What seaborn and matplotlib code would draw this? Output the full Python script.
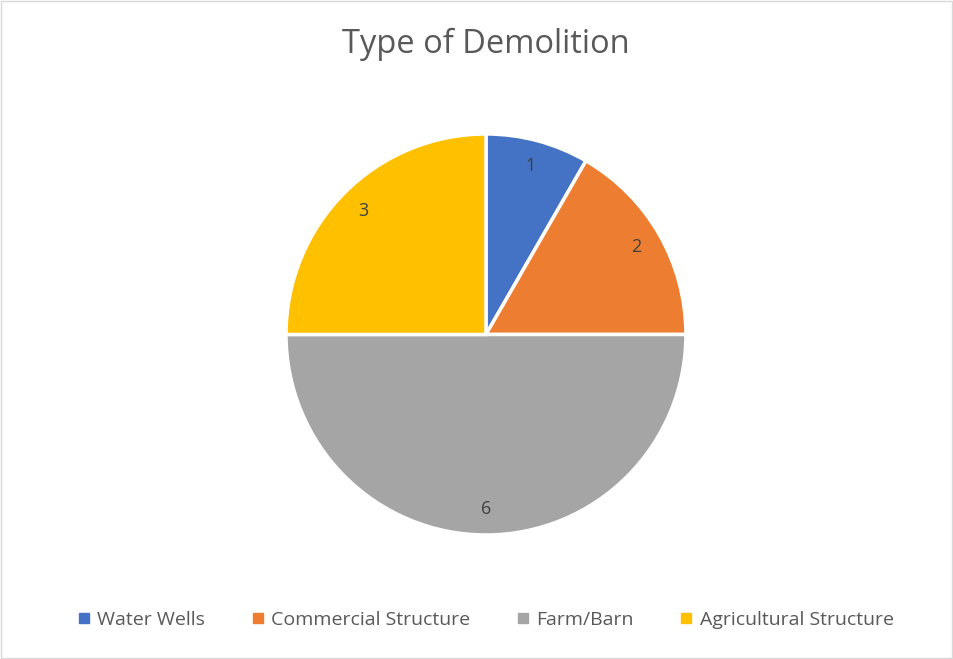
import matplotlib
matplotlib.use("Agg")
import matplotlib.pyplot as plt
import seaborn as sns
from matplotlib.lines import Line2D
from matplotlib.patches import Rectangle

sns.set_theme(style="white")
plt.rcParams['font.family'] = ['Open Sans', 'DejaVu Sans']

# data
categories = ['Water Wells', 'Commercial Structure', 'Farm/Barn', 'Agricultural Structure']
counts = [1, 2, 6, 3]
colors = ['#4472C4', '#ED7D31', '#A5A5A5', '#FFC000']

fig = plt.figure(figsize=(9.54, 6.59), dpi=100)
ax = fig.add_axes([0.2998, 0.1882, 0.4192, 0.6085])

total = sum(counts)
wedges, texts, autotexts = ax.pie(
    counts,
    colors=colors,
    startangle=90,
    counterclock=False,
    autopct=lambda p: '%d' % round(p * total / 100),
    pctdistance=0.87,
    wedgeprops=dict(edgecolor='white', linewidth=2.5),
    textprops=dict(color='#404040', fontsize=13),
)
ax.set_aspect('auto')
ax.set_xlim(-1, 1)
ax.set_ylim(-1, 1)

fig.text(0.5094, 0.932, 'Type of Demolition', ha='center', va='center',
         fontsize=23.5, color='#595959')

handles = [Line2D([0], [0], marker='s', linestyle='', markersize=7,
                  markerfacecolor=c, markeredgecolor=c) for c in colors]
fig.legend(handles, categories, loc='center', bbox_to_anchor=(0.5094, 0.059),
           ncol=4, frameon=False, fontsize=14, handlelength=0.6, handletextpad=0.4,
           columnspacing=2.4, labelcolor='#595959')

fig.patches.append(Rectangle((0.001, 0.002), 0.997, 0.996, transform=fig.transFigure,
                             fill=False, edgecolor='#D9D9D9', linewidth=1))

fig.savefig('out.png', dpi=100)
